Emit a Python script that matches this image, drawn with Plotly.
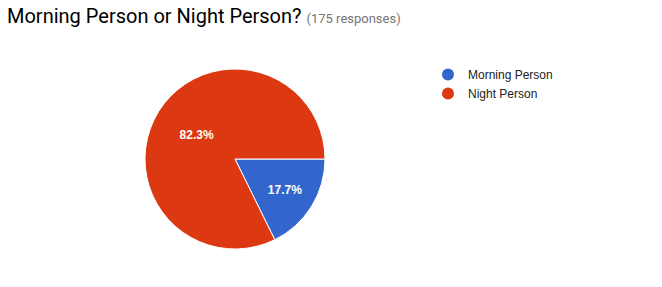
import plotly.graph_objects as go

labels = ["Morning Person", "Night Person"]
values = [31, 144]
colors = ["#3366cc", "#dc3912"]
title_text = "Morning Person or Night Person?"
subtitle_text = "(175 responses)"

W, H = 662, 287
fig = go.Figure()
fig.add_trace(go.Pie(
    labels=labels, values=values, sort=False, direction="clockwise", rotation=90,
    marker=dict(colors=colors, line=dict(color="white", width=1)),
    texttemplate="<b>%{percent:.1%}</b>", textposition="inside",
    insidetextfont=dict(color="white", size=12, family="Arial"),
    insidetextorientation="horizontal",
    showlegend=False, hoverinfo="label+percent",
    domain=dict(x=[145 / W, 325 / W], y=[(H - 249) / H, (H - 69) / H]),
))
for lab, col in zip(labels, colors):
    fig.add_trace(go.Scatter(x=[None], y=[None], mode="markers", name=lab,
                             marker=dict(color=col, size=12, symbol="circle")))

fig.update_layout(
    width=W, height=H, margin=dict(l=0, r=0, t=0, b=0),
    paper_bgcolor="white", plot_bgcolor="white",
    xaxis=dict(visible=False), yaxis=dict(visible=False),
    legend=dict(x=428 / W, y=1 - 60 / H, xanchor="left", yanchor="top",
                font=dict(family="Arial", size=12, color="#222"),
                itemsizing="constant", tracegroupgap=0, bgcolor="rgba(0,0,0,0)"),
    annotations=[dict(
        x=5 / W, y=1 - 2 / H, xref="paper", yref="paper", xanchor="left", yanchor="top",
        showarrow=False, align="left",
        text=f"<span style='font-size:20px;color:#000'>{title_text}</span> "
             f"<span style='font-size:13px;color:#757575'>{subtitle_text}</span>",
        font=dict(family="Roboto", size=20, color="black"),
    )],
)
fig.write_html("out.html")
